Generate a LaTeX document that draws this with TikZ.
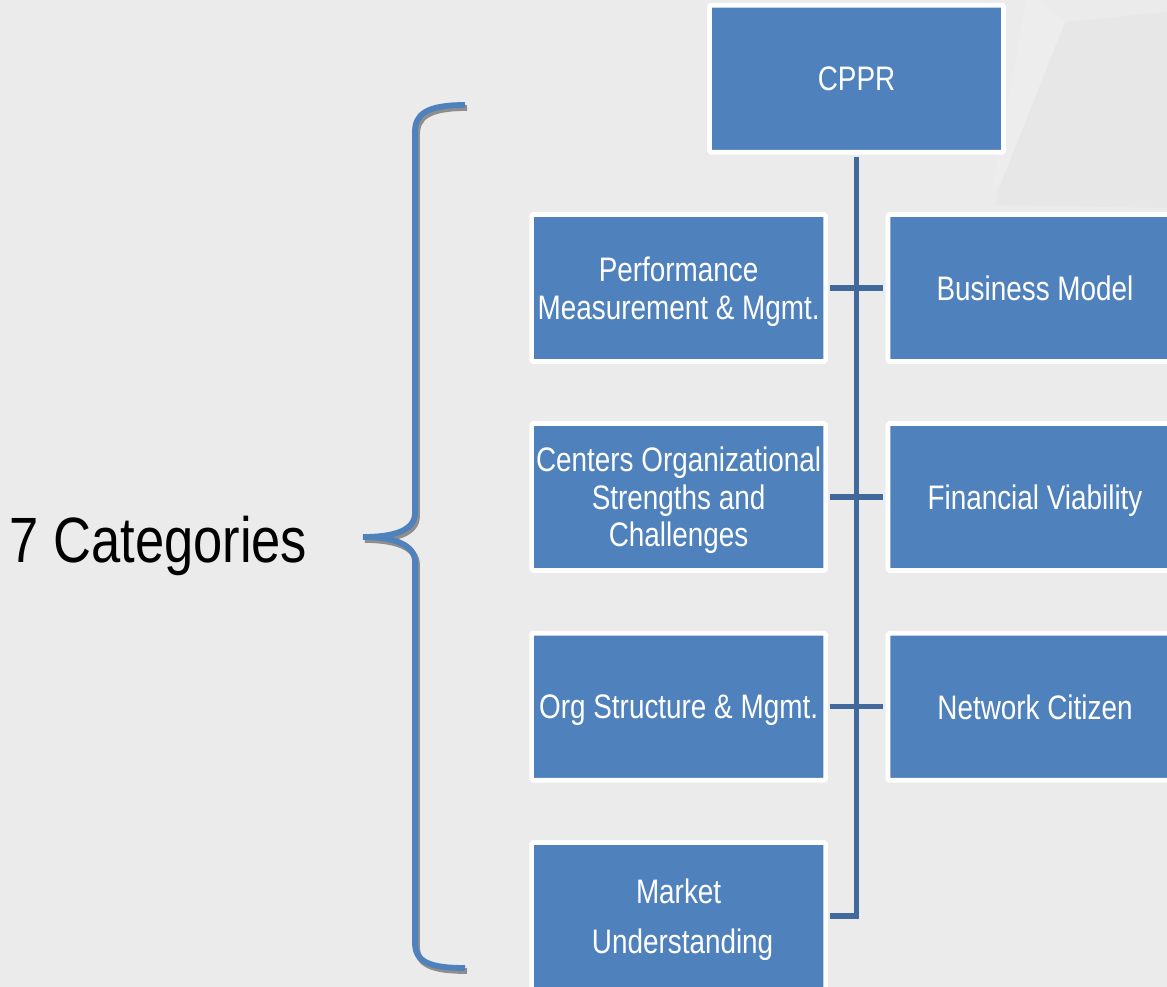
\documentclass[tikz,border=0pt]{standalone}
\usepackage{fontspec}
\setmainfont{Liberation Sans}[FakeStretch=0.82]
\definecolor{bgc}{HTML}{EBEBEB}
\definecolor{bgdark}{HTML}{E7E7E7}
\definecolor{bglight}{HTML}{EDEDED}
\definecolor{boxblue}{HTML}{4F81BD}
\definecolor{trunkblue}{RGB}{65,105,155}
\definecolor{shadowgray}{HTML}{8E8E8E}
\tikzset{
  catbox/.style={rectangle, fill=boxblue, draw=white, line width=4.7pt,
    rounded corners=1.5pt, minimum width=294pt, minimum height=147pt,
    inner sep=0pt, align=center, text=white, text depth=0pt,
    font=\fontsize{34}{37.5}\selectfont},
  conn/.style={draw=trunkblue, line width=5.5pt, shorten <=2.35pt, shorten >=2.35pt},
  bracestroke/.style={line width=5.8pt},
}
\begin{document}
\begin{tikzpicture}[x=1pt,y=-1pt]
\useasboundingbox (0,0) rectangle (1167,987);
\clip (0,0) rectangle (1167,987);
\fill[bgc] (0,0) rectangle (1167,987);
% faint background facets
\fill[bgdark] (1065,22) -- (1167,12) -- (1167,208) -- (995,205) -- (1000,185) -- cycle;
\fill[bglight] (1026,0) -- (1040,0) -- (1065,22) -- (1000,185) -- (992,192) -- cycle;

% boxes
\node[catbox] (cppr) at (856.5,78.75) {CPPR};
\node[catbox] (perf) at (678.6,288) {Performance\\Measurement \& Mgmt.};
\node[catbox] (bm) at (1035,288) {Business Model};
\node[catbox] (cent) at (678.6,497) {Centers Organizational\\Strengths and\\Challenges};
\node[catbox] (fin) at (1035,497) {Financial Viability};
\node[catbox] (org) at (678.6,706.7) {Org Structure \& Mgmt.};
\node[catbox] (net) at (1035,706.7) {Network Citizen};
\node[catbox, font=\fontsize{34}{50}\selectfont] (mkt) at (678.6,916) {Market\\\hspace*{8pt}Understanding};

% connectors
\draw[conn] (cppr.south) |- (mkt.east);
\draw[conn] (perf.east) -- (bm.west);
\draw[conn] (cent.east) -- (fin.west);
\draw[conn] (org.east) -- (net.west);

% brace
\begin{scope}[shift={(2,3)}]
\draw[bracestroke, shadowgray] (465,105) .. controls (425,105) and (415,115) .. (415,132)
  -- (415,513) .. controls (415,530) and (395,537) .. (363,537)
  .. controls (395,537) and (415,545) .. (415,562)
  -- (415,943) .. controls (415,962) and (430,968) .. (465,968);
\end{scope}
\draw[bracestroke, boxblue] (465,105) .. controls (425,105) and (415,115) .. (415,132)
  -- (415,513) .. controls (415,530) and (395,537) .. (363,537)
  .. controls (395,537) and (415,545) .. (415,562)
  -- (415,943) .. controls (415,962) and (430,968) .. (465,968);

\node[inner sep=0pt, text depth=0pt, font=\fontsize{64}{70}\selectfont, text=black] (title) at (158.5,539) {7 Categories};
\end{tikzpicture}
\end{document}
